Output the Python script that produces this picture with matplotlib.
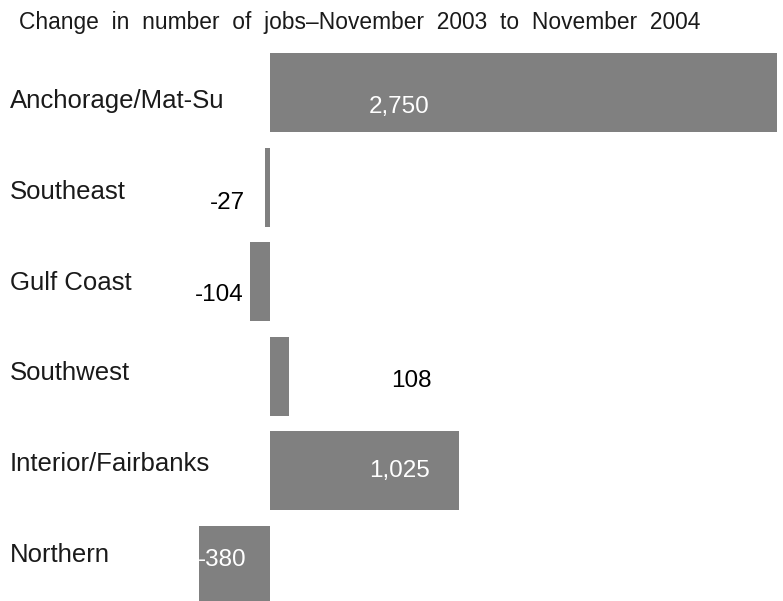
import matplotlib
matplotlib.use("Agg")
from matplotlib import pyplot as plt

regions = ["Anchorage/Mat-Su", "Southeast", "Gulf Coast", "Southwest",
           "Interior/Fairbanks", "Northern"]
changes = [2750, -27, -104, 108, 1025, -380]
value_labels = ["2,750", "-27", "-104", "108", "1,025", "-380"]
title = "Change in number of jobs\u2013November 2003 to November 2004"

# label placement (pixel offsets from the bar's zero point / centre)
label_dx = [130, -42, -50, 142, 130, -47]
label_dy = [-20, -22, -19, -11, -6, -1]
label_colors = ["white", "black", "black", "black", "white", "white"]

bar_color = "#808080"
W, H = 783, 601

plt.rcParams['font.family'] = ['Liberation Sans', 'DejaVu Sans']

f = plt.figure(figsize=(W / 100, H / 100), dpi=100)
ax = f.add_axes([0, 0, 1, 1])
ax.axis('off')

px_per_unit = 0.1844
zero_px = 269.5
ax.set_xlim(-zero_px / px_per_unit, (W - zero_px) / px_per_unit)

step = 94.6
first_center = 92.5
ax.set_ylim((H - first_center) / step, -first_center / step)

ypos = list(range(len(regions)))
ax.barh(ypos, changes, height=79 / step, color=bar_color, linewidth=0)

for i, (lab, dx, dy, c) in enumerate(zip(value_labels, label_dx, label_dy, label_colors)):
    ax.annotate(lab, xy=(0, i), xytext=(dx, dy), textcoords='offset pixels',
                ha='center', va='baseline', fontsize=17.5, color=c)

# region names, left aligned at the figure edge
for i, name in enumerate(regions):
    base = 108 + 90.8 * i
    f.text(10 / W, 1 - base / H, name, ha='left', va='baseline',
           fontsize=18.5, color='#1a1a1a')

f.text(19 / W, 1 - 29.5 / H, title.replace(" ", "  "), ha='left', va='baseline',
       fontsize=16.4, color='#1a1a1a')

f.savefig("out.png", dpi=100)
